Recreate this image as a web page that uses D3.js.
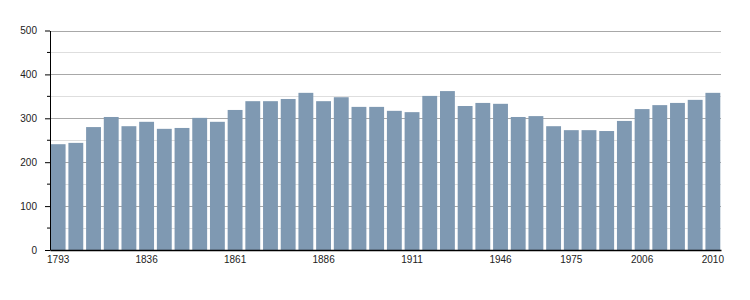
<!DOCTYPE html>
<html>
<head>
<meta charset="utf-8">
<script src="https://cdn.jsdelivr.net/npm/d3@7"></script>
<style>
  body { margin: 0; background: #fff; }
  svg { display: block; font-family: "Liberation Sans", Arial, sans-serif; }
</style>
</head>
<body>
<svg id="chart"></svg>
<script>
// census years and population
const years = [1793, 1800, 1806, 1821, 1831, 1836, 1841, 1846, 1851, 1856,
  1861, 1866, 1872, 1876, 1881, 1886, 1891, 1896, 1901, 1906,
  1911, 1921, 1926, 1931, 1936, 1946, 1954, 1962, 1968, 1975,
  1982, 1990, 1999, 2006, 2007, 2008, 2009, 2010];
const population = [241, 244, 280, 303, 282, 292, 276, 278, 301, 292,
  319, 339, 339, 344, 358, 339, 348, 326, 326, 317,
  314, 351, 362, 328, 335, 333, 303, 305, 282, 273,
  273, 271, 294, 321, 330, 335, 342, 358];
const labelYears = [1793, 1836, 1861, 1886, 1911, 1946, 1975, 2006, 2010];
const yTicks = [0, 100, 200, 300, 400, 500];
const yMinor = [50, 150, 250, 350, 450];

const width = 750, height = 300;
const margin = {top: 30.5, right: 29, bottom: 50, left: 50};

const svg = d3.select("#chart")
    .attr("width", width)
    .attr("height", height);

const x = d3.scaleBand()
    .domain(years)
    .range([margin.left, width - margin.right])
    .paddingInner(0.16)
    .paddingOuter(0.04);

const y = d3.scaleLinear()
    .domain([0, 500])
    .range([height - margin.bottom, margin.top]);

// grid lines
svg.append("g")
    .selectAll("line")
    .data(yMinor)
    .join("line")
    .attr("x1", margin.left).attr("x2", width - margin.right)
    .attr("y1", d => Math.round(y(d)) + 0.5).attr("y2", d => Math.round(y(d)) + 0.5)
    .attr("stroke", "#dedede");

svg.append("g")
    .selectAll("line")
    .data(yTicks.slice(1))
    .join("line")
    .attr("x1", margin.left).attr("x2", width - margin.right)
    .attr("y1", d => Math.round(y(d)) + 0.5).attr("y2", d => Math.round(y(d)) + 0.5)
    .attr("stroke", "#a8a8a8");

// bars
svg.append("g")
    .attr("fill", "#7f99b2")
    .selectAll("rect")
    .data(years.map((yr, i) => [yr, population[i]]))
    .join("rect")
    .attr("x", d => x(d[0]))
    .attr("y", d => y(d[1]))
    .attr("width", x.bandwidth())
    .attr("height", d => y(0) - y(d[1]));

// left axis
const yAxis = svg.append("g")
    .attr("transform", `translate(${margin.left},0)`)
    .call(d3.axisLeft(y).tickValues(yTicks).tickSize(5).tickPadding(8).tickSizeOuter(0))
    .call(g => g.selectAll("text").attr("font-size", 10).attr("fill", "#222"))
    .call(g => g.select(".domain").attr("stroke", "#000"));

yAxis.append("g")
    .selectAll("line")
    .data(yMinor)
    .join("line")
    .attr("x1", -3).attr("x2", 0)
    .attr("y1", d => y(d)).attr("y2", d => y(d))
    .attr("stroke", "#000");

// bottom axis
svg.append("g")
    .attr("transform", `translate(0,${y(0)})`)
    .call(d3.axisBottom(x).tickValues(labelYears).tickSize(0).tickPadding(6).tickSizeOuter(0))
    .call(g => g.selectAll("text").attr("font-size", 10).attr("fill", "#222"))
    .call(g => g.select(".domain").attr("stroke", "#000").attr("stroke-width", 1.3));
</script>
</body>
</html>
